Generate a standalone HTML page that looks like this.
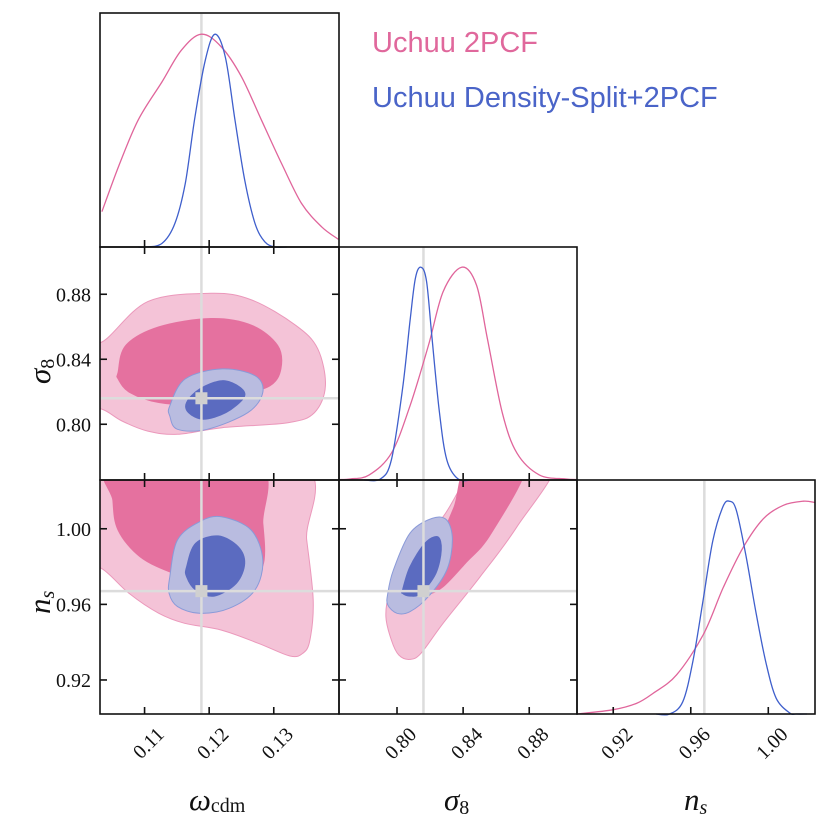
<!DOCTYPE html>
<html><head><meta charset="utf-8"><style>
html,body{margin:0;padding:0;background:#fff;}
svg{display:block;}
.tk{font-family:"Liberation Serif",serif;font-size:20px;fill:#111;}
.ttl{font-family:"Liberation Serif",serif;font-style:italic;font-size:31px;fill:#111;}
</style></head><body>
<svg id="c" width="830" height="830" viewBox="0 0 830 830" xmlns="http://www.w3.org/2000/svg">
<defs>
<clipPath id="cA"><rect x="100" y="246" width="239" height="234"/></clipPath>
<clipPath id="cD"><rect x="100" y="480" width="239" height="234"/></clipPath>
<clipPath id="cE"><rect x="339" y="480" width="238" height="234"/></clipPath>
</defs>
<g id="plots"></g>
<text x="372" y="52" font-family="Liberation Sans, sans-serif" font-size="29" fill="#e0689c">Uchuu 2PCF</text>
<text x="372" y="107" font-family="Liberation Sans, sans-serif" font-size="29" fill="#4a64c8">Uchuu Density-Split+2PCF</text>
<text x="189" y="810" class="ttl">ω<tspan font-style="normal" font-size="20" dy="2">cdm</tspan></text>
<text x="444" y="810" class="ttl">σ<tspan font-style="normal" font-size="20" dy="4">8</tspan></text>
<text x="684" y="810" class="ttl">n<tspan font-size="20" dy="4">s</tspan></text>
<text transform="translate(50,384) rotate(-90)" class="ttl">σ<tspan font-style="normal" font-size="20" dy="4">8</tspan></text>
<text transform="translate(50,614) rotate(-90)" class="ttl">n<tspan font-size="20" dy="4">s</tspan></text>
</svg>
<script>
// ---- data ----
const truthOmega = 0.1188, truthSigma8 = 0.8160, truthNs = 0.967;
const omegaTicks = [0.11, 0.12, 0.13];
const sigma8Ticks = [0.80, 0.84, 0.88];
const nsTicks = [0.92, 0.96, 1.00];
const omegaTickLabels = ["0.11", "0.12", "0.13"];
const sigma8TickLabels = ["0.80", "0.84", "0.88"];
const nsTickLabels = ["0.92", "0.96", "1.00"];
// marginal omega
const omPinkX = [0.1034,0.1060,0.1090,0.1127,0.1157,0.1188,0.1219,0.1250,0.1281,0.1312,0.1343,0.1374,0.1400];
const omPinkY = [0.166,0.380,0.596,0.776,0.925,1.0,0.940,0.800,0.596,0.393,0.205,0.095,0.036];
const omBlueX = [0.1090,0.1101,0.1127,0.1147,0.1163,0.1178,0.1194,0.1209,0.1225,0.1240,0.1255,0.1271,0.1286,0.1302,0.1320];
const omBlueY = [0,0.0,0.017,0.111,0.299,0.612,0.878,1.0,0.893,0.596,0.315,0.111,0.025,0,0];
// marginal sigma8
const s8PinkX = [0.7650,0.7720,0.7832,0.7966,0.8078,0.8190,0.8279,0.8391,0.8481,0.8547,0.8637,0.8726,0.8861,0.9017,0.9089];
const s8PinkY = [0.002,0.005,0.024,0.126,0.347,0.632,0.885,1.0,0.916,0.664,0.316,0.126,0.024,0.005,0.002];
const s8BlueX = [0.7800,0.7900,0.7966,0.8033,0.8078,0.8111,0.8145,0.8179,0.8212,0.8257,0.8301,0.8369,0.8450];
const s8BlueY = [0,0.005,0.095,0.427,0.743,0.948,1.0,0.932,0.664,0.316,0.095,0.005,0];
// marginal ns
const nsPinkX = [0.9013,0.9200,0.9320,0.9407,0.9527,0.9665,0.9768,0.9871,0.9975,1.0078,1.0181,1.0241];
const nsPinkY = [0.0,0.02,0.050,0.098,0.184,0.374,0.595,0.784,0.918,0.981,1.0,0.994];
const nsBlueX = [0.9420,0.9491,0.9559,0.9611,0.9663,0.9714,0.9766,0.9800,0.9835,0.9886,0.9938,0.9990,1.0041,1.0110,1.0144,1.0200];
const nsBlueY = [0,0.0,0.058,0.248,0.532,0.816,0.974,1.0,0.958,0.738,0.469,0.232,0.074,0.005,0,0];
// omega-sigma8 contours
const A_pinkOut_x = [0.1000,0.1034,0.1105,0.1203,0.1266,0.1334,0.1368,0.1380,0.1363,0.1323,0.1220,0.1151,0.1105,0.1065,0.1034,0.1000];
const A_pinkOut_y = [0.8540,0.8506,0.8755,0.8806,0.8765,0.8609,0.8465,0.8237,0.8072,0.8010,0.7979,0.7938,0.7958,0.8020,0.8093,0.8100];
const A_pinkIn_x = [0.1059,0.1071,0.1122,0.1203,0.1266,0.1306,0.1311,0.1294,0.1243,0.1185,0.1122,0.1077,0.1059];
const A_pinkIn_y = [0.8320,0.8485,0.8599,0.8651,0.8609,0.8485,0.8341,0.8237,0.8175,0.8124,0.8134,0.8196,0.8279];
const A_blueOut_x = [0.1139,0.1163,0.1220,0.1271,0.1283,0.1260,0.1197,0.1151,0.1139];
const A_blueOut_y = [0.8113,0.8279,0.8341,0.8299,0.8196,0.8072,0.7969,0.7969,0.8051];
const A_blueIn_x = [0.1165,0.1185,0.1220,0.1248,0.1254,0.1226,0.1191,0.1168];
const A_blueIn_y = [0.8134,0.8217,0.8268,0.8227,0.8165,0.8072,0.8031,0.8072];
// omega-ns contours
const D_pinkOut_x = [0.1000,0.1000,0.1335,0.1351,0.1361,0.1356,0.1345,0.1325,0.1276,0.1219,0.1162,0.1122,0.1076,0.1033,0.1000];
const D_pinkOut_y = [0.9780,1.0350,1.0350,0.9941,0.9623,0.9411,0.9341,0.9327,0.9394,0.9464,0.9500,0.9553,0.9658,0.9791,0.9800];
const D_pinkIn_x = [0.1051,0.1271,0.1283,0.1285,0.1271,0.1242,0.1196,0.1145,0.1093,0.1059,0.1051];
const D_pinkIn_y = [1.0350,1.0350,1.0029,0.9835,0.9746,0.9711,0.9720,0.9764,0.9852,0.9993,1.0150];
const D_blueOut_x = [0.1139,0.1151,0.1185,0.1219,0.1265,0.1283,0.1271,0.1231,0.1185,0.1151,0.1138];
const D_blueOut_y = [0.9746,0.9941,1.0037,1.0064,0.9993,0.9835,0.9676,0.9579,0.9553,0.9588,0.9658];
const D_blueIn_x = [0.1165,0.1179,0.1214,0.1245,0.1255,0.1242,0.1208,0.1179,0.1165];
const D_blueIn_y = [0.9799,0.9923,0.9962,0.9905,0.9817,0.9711,0.9644,0.9676,0.9746];
// sigma8-ns contours
const E_pinkOut_x = [0.7933,0.7955,0.8056,0.8279,0.8520,0.8950,0.8726,0.8503,0.8279,0.8145,0.8078,0.8011,0.7966];
const E_pinkOut_y = [0.9535,0.9658,0.9817,1.0064,1.0350,1.0350,1.0011,0.9746,0.9500,0.9341,0.9309,0.9332,0.9411];
const E_pinkIn_x = [0.8440,0.8780,0.8570,0.8413,0.8279,0.8190,0.8123,0.8145,0.8257,0.8346];
const E_pinkIn_y = [1.0350,1.0350,0.9976,0.9817,0.9693,0.9654,0.9658,0.9764,0.9941,1.0117];
const E_blueOut_x = [0.7944,0.7978,0.8078,0.8212,0.8301,0.8335,0.8301,0.8190,0.8078,0.8000,0.7944];
const E_blueOut_y = [0.9658,0.9782,0.9976,1.0055,1.0046,0.9941,0.9782,0.9641,0.9561,0.9553,0.9597];
const E_blueIn_x = [0.8033,0.8078,0.8168,0.8246,0.8268,0.8235,0.8145,0.8078,0.8033];
const E_blueIn_y = [0.9676,0.9799,0.9923,0.9958,0.9888,0.9764,0.9658,0.9644,0.9658];

// ---- scales ----
function lin(d0,d1,r0,r1){return v=>r0+(v-d0)/(d1-d0)*(r1-r0);}
const xOm = lin(0.1031,0.1401,100,339);
const xS8 = lin(0.7649,0.9089,339,577);
const xNs = lin(0.9013,1.0241,577,815);
const yS8 = lin(0.7657,0.9097,480,246);
const yNs = lin(0.902,1.0258,714,480);
const yM0 = lin(0,1.095,247,14);
const yM1 = lin(0,1.095,480,247);
const yM2 = lin(0,1.095,714,481);

const NS='http://www.w3.org/2000/svg';
const root=document.getElementById('plots');
function mk(tag,attrs,parent){const e=document.createElementNS(NS,tag);for(const k in attrs)e.setAttribute(k,attrs[k]);(parent||root).appendChild(e);return e;}
function smooth(pts,closed){
  const n=pts.length;let d='M'+pts[0][0].toFixed(1)+','+pts[0][1].toFixed(1);
  const get=i=>closed?pts[(i+n)%n]:pts[Math.max(0,Math.min(n-1,i))];
  const last=closed?n:n-1;
  for(let i=0;i<last;i++){
    const p0=get(i-1),p1=get(i),p2=get(i+1),p3=get(i+2);
    const c1=[p1[0]+(p2[0]-p0[0])/6,p1[1]+(p2[1]-p0[1])/6];
    const c2=[p2[0]-(p3[0]-p1[0])/6,p2[1]-(p3[1]-p1[1])/6];
    d+='C'+c1[0].toFixed(1)+','+c1[1].toFixed(1)+' '+c2[0].toFixed(1)+','+c2[1].toFixed(1)+' '+p2[0].toFixed(1)+','+p2[1].toFixed(1);
  }
  return d+(closed?'Z':'');
}
function pts(xs,ys,fx,fy){return xs.map((v,i)=>[fx(v),fy(ys[i])]);}

const PINK_L='#f4c3d7',PINK_D='#e5719f',PINK_E='#eb98bb',BLUE_L='#b9bce0',BLUE_D='#5b6bc0',BLUE_E='#8a9ad8',TRUTH='#dcdcdc';

function contourPanel(clip,fx,fy,sets,names){
  const g=mk('g',{'clip-path':'url(#'+clip+')'});
  sets.forEach((s,i)=>{
    const p=mk('path',{d:smooth(pts(s[0],s[1],fx,fy),true),fill:s[2],stroke:s[3],'stroke-width':1},g);
    
    
  });
  return g;
}
contourPanel('cA',xOm,yS8,[[A_pinkOut_x,A_pinkOut_y,PINK_L,PINK_E],[A_pinkIn_x,A_pinkIn_y,PINK_D,PINK_D],[A_blueOut_x,A_blueOut_y,BLUE_L,BLUE_E],[A_blueIn_x,A_blueIn_y,BLUE_D,BLUE_D]],['omega-sigma8-pink-95','omega-sigma8-pink-68','omega-sigma8-blue-95','omega-sigma8-blue-68']);
contourPanel('cD',xOm,yNs,[[D_pinkOut_x,D_pinkOut_y,PINK_L,PINK_E],[D_pinkIn_x,D_pinkIn_y,PINK_D,PINK_D],[D_blueOut_x,D_blueOut_y,BLUE_L,BLUE_E],[D_blueIn_x,D_blueIn_y,BLUE_D,BLUE_D]],['omega-ns-pink-95','omega-ns-pink-68','omega-ns-blue-95','omega-ns-blue-68']);
contourPanel('cE',xS8,yNs,[[E_pinkOut_x,E_pinkOut_y,PINK_L,PINK_E],[E_pinkIn_x,E_pinkIn_y,PINK_D,PINK_D],[E_blueOut_x,E_blueOut_y,BLUE_L,BLUE_E],[E_blueIn_x,E_blueIn_y,BLUE_D,BLUE_D]],['sigma8-ns-pink-95','sigma8-ns-pink-68','sigma8-ns-blue-95','sigma8-ns-blue-68']);

function tl(x1,y1,x2,y2,name){const l=mk('line',{x1,y1,x2,y2,stroke:TRUTH,'stroke-width':2.5});}
tl(xOm(truthOmega),14,xOm(truthOmega),714,'truth-omega-line');
tl(xS8(truthSigma8),247,xS8(truthSigma8),714,'truth-sigma8-vline');
tl(xNs(truthNs),481,xNs(truthNs),714,'truth-ns-vline');
tl(100,yS8(truthSigma8),339,yS8(truthSigma8),'truth-sigma8-hline');
tl(100,yNs(truthNs),577,yNs(truthNs),'truth-ns-hline');
function mark(x,y,name){const r=mk('rect',{x:x-6,y:y-6,width:12,height:12,fill:'#d0d0d0'});}
mark(xOm(truthOmega),yS8(truthSigma8),'truth-marker-omega-sigma8');
mark(xOm(truthOmega),yNs(truthNs),'truth-marker-omega-ns');
mark(xS8(truthSigma8),yNs(truthNs),'truth-marker-sigma8-ns');

function line(xs,ys,fx,fy,col,name){const p=mk('path',{d:smooth(pts(xs,ys,fx,fy),false),fill:'none',stroke:col,'stroke-width':1.3});}
const PL='#e0659b',BL='#3f5fcc';
line(omPinkX,omPinkY,xOm,yM0,PL,'omega-marginal-pink');
line(omBlueX,omBlueY,xOm,yM0,BL,'omega-marginal-blue');
line(s8PinkX,s8PinkY,xS8,yM1,PL,'sigma8-marginal-pink');
line(s8BlueX,s8BlueY,xS8,yM1,BL,'sigma8-marginal-blue');
line(nsPinkX,nsPinkY,xNs,yM2,PL,'ns-marginal-pink');
line(nsBlueX,nsBlueY,xNs,yM2,BL,'ns-marginal-blue');

const panels=[
 {x:100,y:13,w:239,h:234,fx:xOm,xt:omegaTicks,fy:null,name:'panel-omega-marginal'},
 {x:100,y:247,w:239,h:233,fx:xOm,xt:omegaTicks,fy:yS8,yt:sigma8Ticks,name:'panel-omega-sigma8'},
 {x:339,y:247,w:238,h:233,fx:xS8,xt:sigma8Ticks,fy:null,name:'panel-sigma8-marginal'},
 {x:100,y:480,w:239,h:234,fx:xOm,xt:omegaTicks,fy:yNs,yt:nsTicks,name:'panel-omega-ns'},
 {x:339,y:480,w:238,h:234,fx:xS8,xt:sigma8Ticks,fy:yNs,yt:nsTicks,name:'panel-sigma8-ns'},
 {x:577,y:480,w:238,h:234,fx:xNs,xt:nsTicks,fy:null,name:'panel-ns-marginal'}
];
panels.forEach(p=>{
  const r=mk('rect',{x:p.x,y:p.y,width:p.w,height:p.h,fill:'none',stroke:'#111','stroke-width':1.6});
  
  p.xt.forEach(v=>{const X=p.fx(v);
    mk('line',{x1:X,y1:p.y+p.h,x2:X,y2:p.y+p.h-7,stroke:'#111','stroke-width':1.6});
    if(p.fy) mk('line',{x1:X,y1:p.y,x2:X,y2:p.y+7,stroke:'#111','stroke-width':1.6});
  });
  if(p.fy) p.yt.forEach(v=>{const Y=p.fy(v);
    mk('line',{x1:p.x,y1:Y,x2:p.x+7,y2:Y,stroke:'#111','stroke-width':1.6});
    mk('line',{x1:p.x+p.w,y1:Y,x2:p.x+p.w-7,y2:Y,stroke:'#111','stroke-width':1.6});
  });
});
function ylab(vals,labs,fy,name){vals.forEach((v,i)=>{const t=mk('text',{x:91,y:fy(v)+7,'text-anchor':'end',class:'tk'});t.textContent=labs[i];});}
ylab(sigma8Ticks,sigma8TickLabels,yS8,'sigma8-y');
ylab(nsTicks,nsTickLabels,yNs,'ns-y');
function xlab(vals,labs,fx,name){vals.forEach((v,i)=>{const X=fx(v);const t=mk('text',{transform:'translate('+(X+10)+',725) rotate(-45)','text-anchor':'end',class:'tk',dy:'0.75em'});t.textContent=labs[i];});}
xlab(omegaTicks,omegaTickLabels,xOm,'omega-x');
xlab(sigma8Ticks,sigma8TickLabels,xS8,'sigma8-x');
xlab(nsTicks,nsTickLabels,xNs,'ns-x');
</script>
</body></html>
